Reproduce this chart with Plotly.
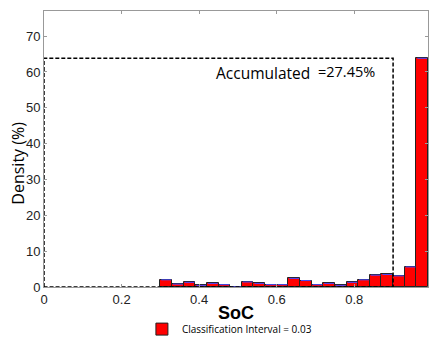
import plotly.graph_objects as go

# Data
bin_starts = [0.30, 0.33, 0.36, 0.39, 0.42, 0.45, 0.48, 0.51, 0.54, 0.57,
              0.60, 0.63, 0.66, 0.69, 0.72, 0.75, 0.78, 0.81, 0.84, 0.87,
              0.90, 0.93, 0.96]
density = [2.0, 0.8, 1.3, 0.45, 1.0, 0.65, 0.05, 1.4, 1.0, 0.65,
           0.65, 2.4, 1.8, 0.65, 1.0, 0.45, 1.3, 2.0, 3.3, 3.5,
           3.1, 5.6, 63.8]
interval = 0.03
threshold = 0.9
accum_label = "Accumulated"
accum_text = "=27.45%"
legend_label = "Classification Interval = 0.03"
x_ticks = [0, 0.2, 0.4, 0.6, 0.8]
x_ticktext = ["0", "0.2", "0.4", "0.6", "0.8"]
y_ticks = [0, 10, 20, 30, 40, 50, 60, 70]

centers = [s + interval / 2 for s in bin_starts]
peak = max(density)

fig = go.Figure()
fig.add_trace(go.Bar(
    x=centers, y=density, width=[interval] * len(centers),
    marker=dict(color="#ff0000", line=dict(color="#222222", width=1)),
    name=legend_label, showlegend=True,
))
# thin blue caps on bar tops
fig.add_trace(go.Scatter(
    x=centers, y=density, mode="markers",
    marker=dict(symbol="line-ew", size=7, line=dict(color="#4a4aff", width=1)),
    showlegend=False, hoverinfo="skip",
))
fig.add_trace(go.Scatter(
    x=[0, 0, threshold, threshold, 0], y=[0, peak, peak, 0, 0],
    mode="lines", line=dict(color="black", width=1.5, dash="4px,2px"),
    showlegend=False, cliponaxis=False, hoverinfo="skip",
))

axis_common = dict(
    showline=True, linecolor="#999999", linewidth=1, mirror="ticks",
    ticks="inside", ticklen=3, tickcolor="#999999", showgrid=False, zeroline=False,
    tickfont=dict(family="Liberation Sans, Arial", size=13, color="#222222"),
)
fig.update_xaxes(range=[0, 0.99], tickvals=x_ticks, ticktext=x_ticktext, **axis_common)
fig.update_yaxes(range=[0, 77], tickvals=y_ticks, **axis_common)

fig.add_annotation(text="<b>SoC</b>", xref="paper", yref="paper", x=0.5, y=-0.095,
                   showarrow=False, font=dict(family="Liberation Sans, Arial", size=18, color="black"),
                   xanchor="center", yanchor="middle")
fig.add_annotation(text="Density (%)", xref="paper", yref="paper", x=-0.068, y=0.45,
                   textangle=-90, showarrow=False,
                   font=dict(family="Open Sans, Liberation Sans", size=16, color="black"),
                   xanchor="center", yanchor="middle")
fig.add_annotation(text=accum_label, xref="x", yref="y", x=0.437, y=59.6,
                   showarrow=False, font=dict(family="Open Sans, Liberation Sans", size=15.5, color="black"),
                   xanchor="left", yanchor="middle")
fig.add_annotation(text=accum_text, xref="x", yref="y", x=0.7, y=60.2,
                   showarrow=False, font=dict(family="Open Sans, Liberation Sans", size=14.5, color="black"),
                   xanchor="left", yanchor="middle")

fig.update_layout(
    width=429, height=338,
    margin=dict(l=44, r=1, t=11, b=51, autoexpand=False),
    paper_bgcolor="white", plot_bgcolor="white",
    bargap=0,
    legend=dict(orientation="h", x=0.255, y=-0.1, xanchor="left", yanchor="top",
                font=dict(family="Open Sans, Liberation Sans", size=10, color="black"),
                itemwidth=30, bgcolor="rgba(0,0,0,0)"),
)

fig.write_html("out.html", config={"displayModeBar": False},
               post_script="document.body.style.margin='0';document.body.style.overflow='hidden';")
